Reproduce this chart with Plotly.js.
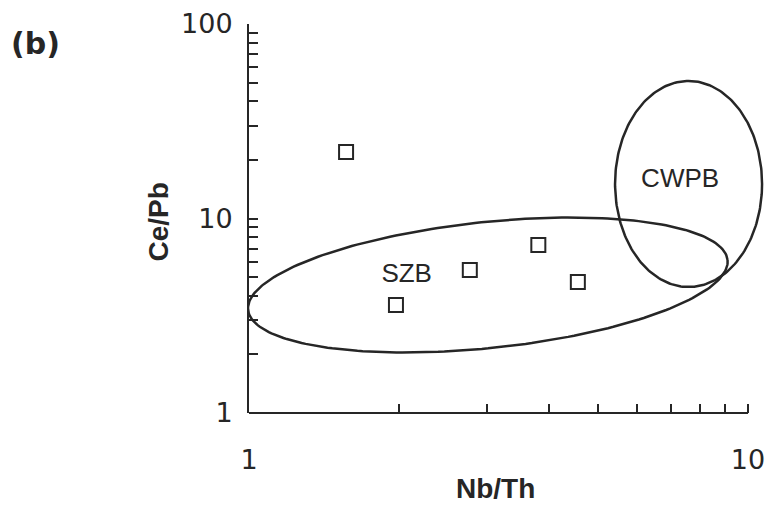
<!DOCTYPE html>
<html>
<head>
<meta charset="utf-8">
<script src="https://cdn.plot.ly/plotly-3.0.1.min.js"></script>
<style>html,body{margin:0;padding:0;background:#fff;}#chart{width:772px;height:513px;}</style>
</head>
<body>
<div id="chart"></div>
<script>
// Sample data (Nb/Th vs Ce/Pb)
const nbTh = [1.565, 1.97, 2.77, 3.80, 4.56];
const cePb = [22.0, 3.59, 5.44, 7.31, 4.72];

// Discrimination fields (ellipses): centre + two semi-diameter vectors in log10 decades
const fieldNames = ['SZB', 'CWPB'];
const fieldCenterNbTh = [3.01, 7.60];
const fieldCenterCePb = [4.55, 15.05];
const fieldSemiA = [[0.4804, 0.1285], [0.1473, 0.0]];
const fieldSemiB = [[-0.0131, 0.3222], [0.0, 0.5296]];
const fieldLabelNbTh = [2.07, 7.31];
const fieldLabelCePb = [5.12, 15.6];

// Axis ticks
const xTickVals = [1, 2, 3, 4, 5, 6, 7, 8, 9, 10];
const xTickText = ['1', '', '', '', '', '', '', '', '', '10'];
const yTickVals = [1, 2, 3, 4, 5, 6, 7, 8, 9, 10, 20, 30, 40, 50, 60, 70, 80, 90, 100];
const yTickText = ['1', '', '', '', '', '', '', '', '', '10', '', '', '', '', '', '', '', '', '100'];

const INK = '#262626';

function outline(i) {
  const xs = [], ys = [];
  const lx = Math.log10(fieldCenterNbTh[i]), ly = Math.log10(fieldCenterCePb[i]);
  const a = fieldSemiA[i], b = fieldSemiB[i];
  const n = 240;
  for (let k = 0; k <= n; k++) {
    const t = 2 * Math.PI * k / n;
    xs.push(Math.pow(10, lx + a[0] * Math.cos(t) + b[0] * Math.sin(t)));
    ys.push(Math.pow(10, ly + a[1] * Math.cos(t) + b[1] * Math.sin(t)));
  }
  return {xs, ys};
}

const traces = [];
fieldNames.forEach((name, i) => {
  const o = outline(i);
  traces.push({
    x: o.xs, y: o.ys, type: 'scatter', mode: 'lines', name: name,
    line: {color: INK, width: 2.5},
    hoverinfo: 'skip', showlegend: false
  });
});
traces.push({
  x: fieldLabelNbTh, y: fieldLabelCePb, type: 'scatter', mode: 'text',
  text: fieldNames, textposition: 'middle center',
  textfont: {family: 'Liberation Sans, Arial, sans-serif', size: 26, color: INK},
  hoverinfo: 'skip', showlegend: false
});
traces.push({
  x: nbTh, y: cePb, type: 'scatter', mode: 'markers', name: 'samples',
  marker: {symbol: 'square-open', size: 14, color: INK, line: {width: 2, color: INK}},
  showlegend: false
});

const layout = {
  width: 772, height: 513,
  margin: {l: 249, r: 7, t: 24, b: 100},
  paper_bgcolor: '#ffffff', plot_bgcolor: 'rgba(0,0,0,0)',
  showlegend: false,
  xaxis: {
    type: 'log', range: [0, 1.034], showgrid: false, zeroline: false,
    showline: false,
    tickmode: 'array', tickvals: xTickVals, ticktext: xTickText,
    ticks: 'inside', ticklen: 9, tickwidth: 2, tickcolor: INK,
    ticklabelstandoff: 28,
    tickfont: {family: 'DejaVu Sans, sans-serif', size: 27, color: INK}
  },
  yaxis: {
    type: 'log', range: [0, 2], showgrid: false, zeroline: false,
    showline: true, linecolor: INK, linewidth: 2,
    tickmode: 'array', tickvals: yTickVals, ticktext: yTickText,
    ticks: 'inside', ticklen: 9, tickwidth: 2, tickcolor: INK,
    ticklabelstandoff: 9,
    tickfont: {family: 'DejaVu Sans, sans-serif', size: 27, color: INK}
  },
  shapes: [{
    type: 'line', xref: 'x', yref: 'paper',
    x0: xTickVals[0], x1: xTickVals[xTickVals.length - 1], y0: 0, y1: 0,
    line: {color: INK, width: 2}
  }],
  annotations: [
    {text: '(b)', xref: 'paper', yref: 'paper', x: -0.413, y: 0.949, xanchor: 'center', yanchor: 'middle',
     showarrow: false, font: {family: 'DejaVu Sans, sans-serif', size: 30, color: INK, weight: 'bold'}},
    {text: 'Nb/Th', xref: 'paper', yref: 'paper', x: 0.477, y: -0.193, xanchor: 'center', yanchor: 'middle',
     showarrow: false, font: {family: 'Liberation Sans, Arial, sans-serif', size: 28, color: INK, weight: 'bold'}},
    {text: 'Ce/Pb', xref: 'paper', yref: 'paper', x: -0.176, y: 0.49, xanchor: 'center', yanchor: 'middle',
     textangle: -90, showarrow: false, font: {family: 'Liberation Sans, Arial, sans-serif', size: 28, color: INK, weight: 'bold'}}
  ]
};

Plotly.newPlot('chart', traces, layout, {staticPlot: true, displayModeBar: false});
</script>
</body>
</html>
